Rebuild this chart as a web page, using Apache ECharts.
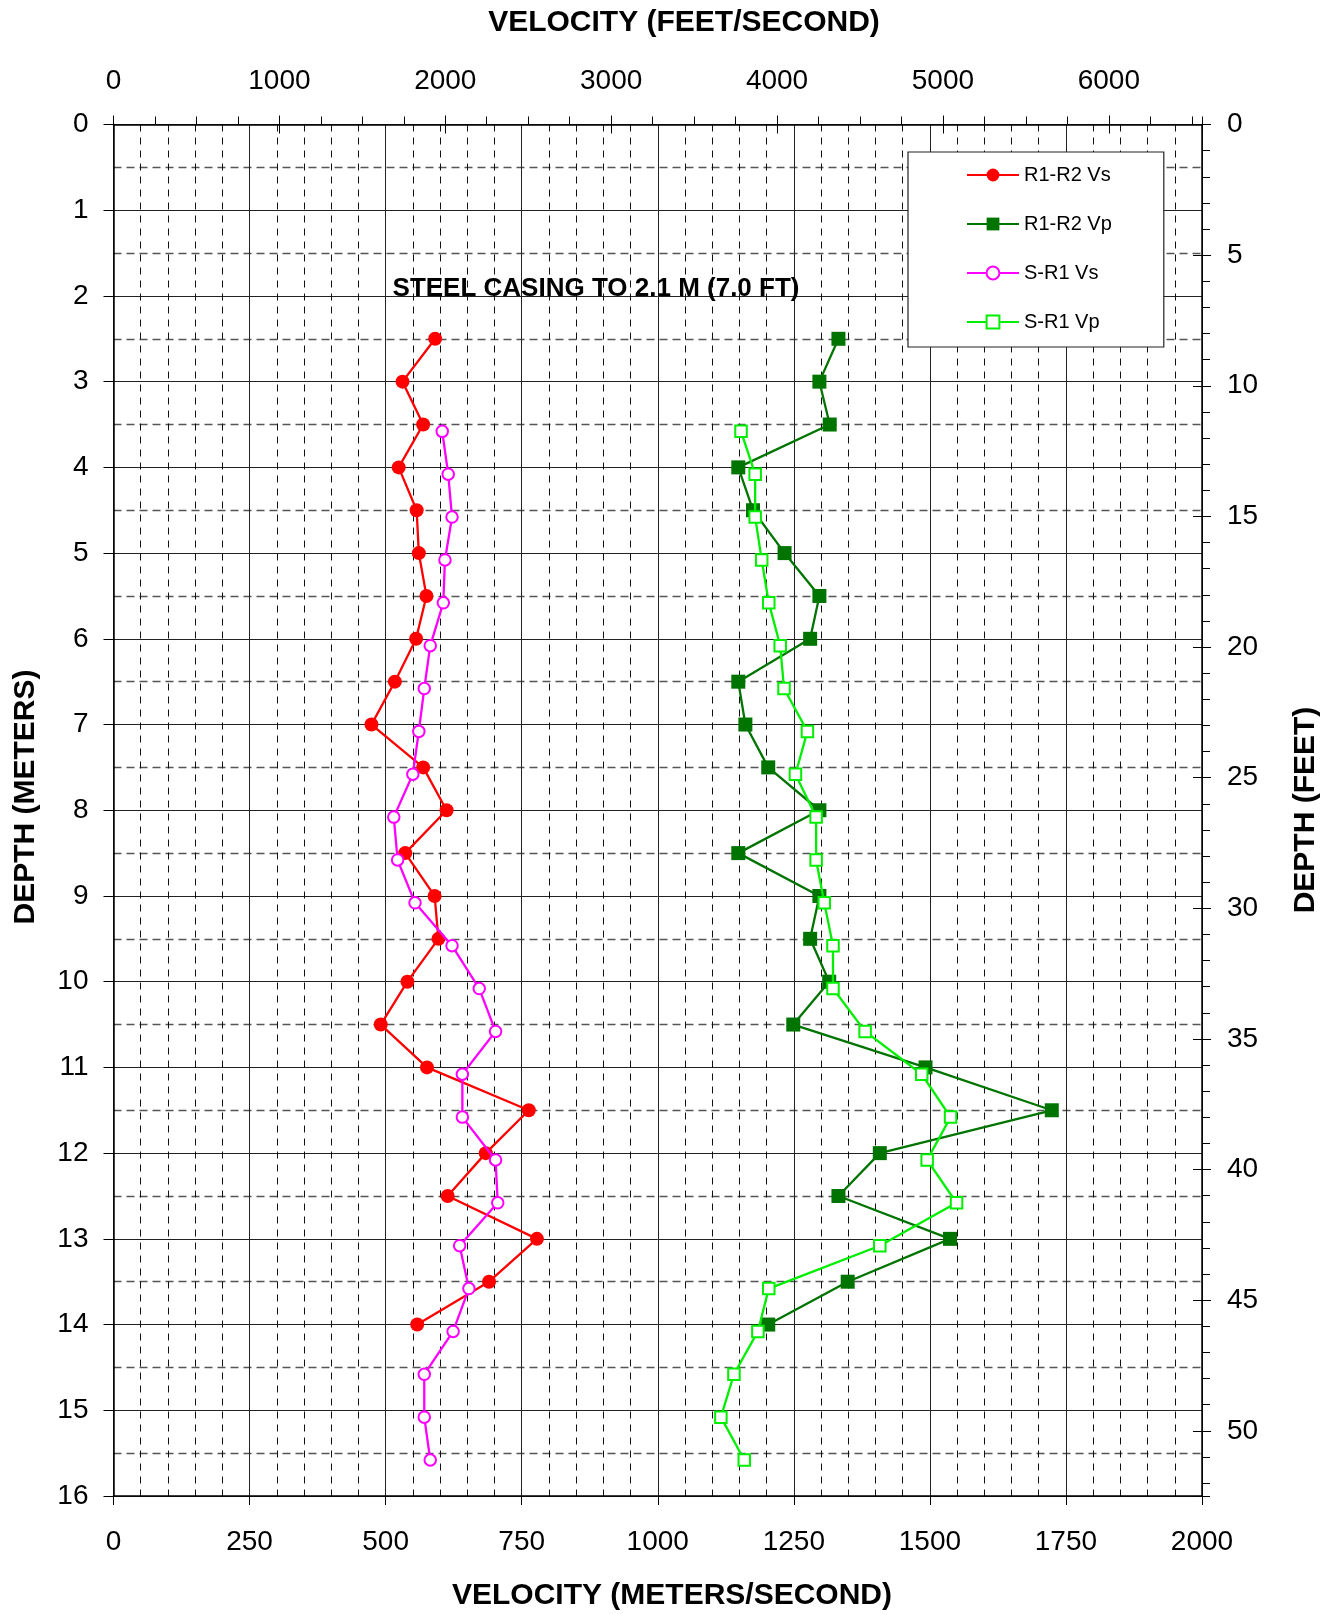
<!DOCTYPE html>
<html>
<head>
<meta charset="utf-8">
<script src="https://cdn.jsdelivr.net/npm/echarts@6/dist/echarts.min.js"></script>
<style>
html,body{margin:0;padding:0;background:#fff;}
#chart{width:1337px;height:1614px;}
</style>
</head>
<body>
<div id="chart"></div>
<script>
// ---- Data (velocity in m/s, depth in m) ----
const r1r2Depths = [2.5,3,3.5,4,4.5,5,5.5,6,6.5,7,7.5,8,8.5,9,9.5,10,10.5,11,11.5,12,12.5,13,13.5,14];
const r1r2Vs = [591,531,569,524,557,561,575,556,517,474,569,612,536,590,597,540,491,576,763,684,614,778,690,558];
const r1r2Vp = [1332,1297,1316,1148,1175,1233,1297,1280,1148,1161,1203,1297,1148,1297,1280,1315,1249,1492,1724,1408,1332,1537,1349,1203];
const sr1Depths = [3.58,4.08,4.58,5.08,5.58,6.08,6.58,7.08,7.58,8.08,8.58,9.08,9.58,10.08,10.58,11.08,11.58,12.08,12.58,13.08,13.58,14.08,14.58,15.08,15.58];
const sr1Vs = [604,615,622,609,606,582,571,561,550,515,522,554,622,672,702,641,641,702,706,636,653,624,571,571,582];
const sr1Vp = [1153,1179,1179,1191,1204,1225,1232,1275,1253,1291,1291,1306,1322,1322,1381,1485,1538,1495,1549,1408,1204,1184,1140,1116,1159];
const seriesNames = ['R1-R2 Vs','R1-R2 Vp','S-R1 Vs','S-R1 Vp'];
const FT = 0.3048;
const velMaxMs = 2000;
const depthMaxM = 16;

const font = 'Liberation Sans, Arial, Helvetica, sans-serif';
function pairs(vals, depths){ return vals.map((v,i)=>[v, depths[i]]); }

const chart = echarts.init(document.getElementById('chart'), null, {renderer:'canvas'});

const lbl = {fontSize:28, color:'#000', fontFamily:font};
const axLine = {show:true, onZero:false, lineStyle:{color:'#000', width:1.5}};
const noLine = {show:false, onZero:false};
const plain = v => String(v);

const option = {
  animation:false,
  backgroundColor:'#fff',
  grid:{left:113.5, top:124.5, width:1088.5, height:1371.5, containLabel:false},
  xAxis:[
    {type:'value', position:'bottom', min:0, max:velMaxMs, interval:250,
     axisLine:axLine, axisTick:{show:true, length:9, lineStyle:{color:'#000'}},
     axisLabel:Object.assign({margin:32, formatter:plain}, lbl),
     splitLine:{show:true, lineStyle:{color:'#222', width:1}},
     minorTick:{show:false, splitNumber:5},
     minorSplitLine:{show:true, lineStyle:{color:'#111', width:1, type:[7,6]}}},
    {type:'value', position:'top', min:0, max:velMaxMs/FT, interval:1000,
     axisLine:axLine, axisTick:{show:true, length:9, lineStyle:{color:'#000'}},
     axisLabel:Object.assign({margin:29, showMaxLabel:false, formatter:v=>(Math.abs(v%1000)<1e-6? String(v):'')}, lbl),
     splitLine:{show:false}},
    {type:'value', position:'top', min:0, max:velMaxMs/FT, interval:250,
     axisLine:noLine, axisTick:{show:true, length:8, lineStyle:{color:'#000'}},
     axisLabel:{show:false}, splitLine:{show:false}},
    {type:'value', position:'top', min:0, max:velMaxMs/FT, interval:1000,
     axisLine:noLine, axisTick:{show:true, inside:true, length:9, lineStyle:{color:'#000'}},
     axisLabel:{show:false}, splitLine:{show:false}}
  ],
  yAxis:[
    {type:'value', position:'left', inverse:true, min:0, max:depthMaxM, interval:1,
     axisLine:axLine, axisTick:{show:true, length:10, lineStyle:{color:'#000'}},
     axisLabel:Object.assign({margin:25, formatter:plain}, lbl),
     splitLine:{show:true, lineStyle:{color:'#222', width:1}},
     minorTick:{show:false, splitNumber:2},
     minorSplitLine:{show:true, lineStyle:{color:'#555', width:1.3, type:[8,5]}}},
    {type:'value', position:'right', inverse:true, min:0, max:depthMaxM/FT, interval:5,
     axisLine:axLine, axisTick:{show:true, length:9, lineStyle:{color:'#000'}},
     axisLabel:Object.assign({margin:25, showMaxLabel:false, formatter:v=>(Math.abs(v%5)<1e-6? String(v):'')}, lbl),
     splitLine:{show:false}},
    {type:'value', position:'right', inverse:true, min:0, max:depthMaxM/FT, interval:1,
     axisLine:noLine, axisTick:{show:true, length:8, lineStyle:{color:'#000'}},
     axisLabel:{show:false}, splitLine:{show:false}},
    {type:'value', position:'right', inverse:true, min:0, max:depthMaxM/FT, interval:5,
     axisLine:noLine, axisTick:{show:true, inside:true, length:9, lineStyle:{color:'#000'}},
     axisLabel:{show:false}, splitLine:{show:false}}
  ],
  legend:{
    orient:'vertical', left:908, top:152,
    padding:[13,52,15,58], itemGap:29, itemWidth:52, itemHeight:16,
    backgroundColor:'#fff', borderColor:'#222', borderWidth:1.2,
    textStyle:{fontSize:20, lineHeight:20, color:'#000', fontFamily:font},
    data:seriesNames
  },
  series:[
    {name:seriesNames[0], type:'line', xAxisIndex:0, yAxisIndex:0, data:pairs(r1r2Vs, r1r2Depths),
     symbol:'circle', symbolSize:14, color:'#ff0000',
     lineStyle:{color:'#ff0000', width:2.3}, itemStyle:{color:'#ff0000'}, z:4},
    {name:seriesNames[1], type:'line', xAxisIndex:0, yAxisIndex:0, data:pairs(r1r2Vp, r1r2Depths),
     symbol:'rect', symbolSize:14, color:'#007400',
     lineStyle:{color:'#007400', width:2.3}, itemStyle:{color:'#007400'}, z:3},
    {name:seriesNames[2], type:'line', xAxisIndex:0, yAxisIndex:0, data:pairs(sr1Vs, sr1Depths),
     symbol:'emptyCircle', symbolSize:11.5, color:'#ff00ff',
     lineStyle:{color:'#ff00ff', width:2.3}, itemStyle:{color:'#ff00ff', borderColor:'#ff00ff', borderWidth:2.6}, z:5},
    {name:seriesNames[3], type:'line', xAxisIndex:0, yAxisIndex:0, data:pairs(sr1Vp, sr1Depths),
     symbol:'emptyRect', symbolSize:11.5, color:'#00ee00',
     lineStyle:{color:'#00ee00', width:2.3}, itemStyle:{color:'#00ee00', borderColor:'#00ee00', borderWidth:2.6}, z:5}
  ],
  graphic:[
    {type:'text', x:684, y:23, style:{text:'VELOCITY (FEET/SECOND)', font:'bold 30px '+font, fill:'#000', textAlign:'center', textVerticalAlign:'middle'}},
    {type:'text', x:672, y:1596, style:{text:'VELOCITY (METERS/SECOND)', font:'bold 30px '+font, fill:'#000', textAlign:'center', textVerticalAlign:'middle'}},
    {type:'text', x:26, y:797, rotation:Math.PI/2, style:{text:'DEPTH (METERS)', font:'bold 30px '+font, fill:'#000', textAlign:'center', textVerticalAlign:'middle'}},
    {type:'text', x:1306, y:810, rotation:Math.PI/2, style:{text:'DEPTH (FEET)', font:'bold 30px '+font, fill:'#000', textAlign:'center', textVerticalAlign:'middle'}},
    {type:'text', x:596, y:289, z:10, style:{text:'STEEL CASING TO 2.1 M (7.0 FT)', font:'bold 26px '+font, fill:'#000', textAlign:'center', textVerticalAlign:'middle'}}
  ]
};
chart.setOption(option);
</script>
</body>
</html>
